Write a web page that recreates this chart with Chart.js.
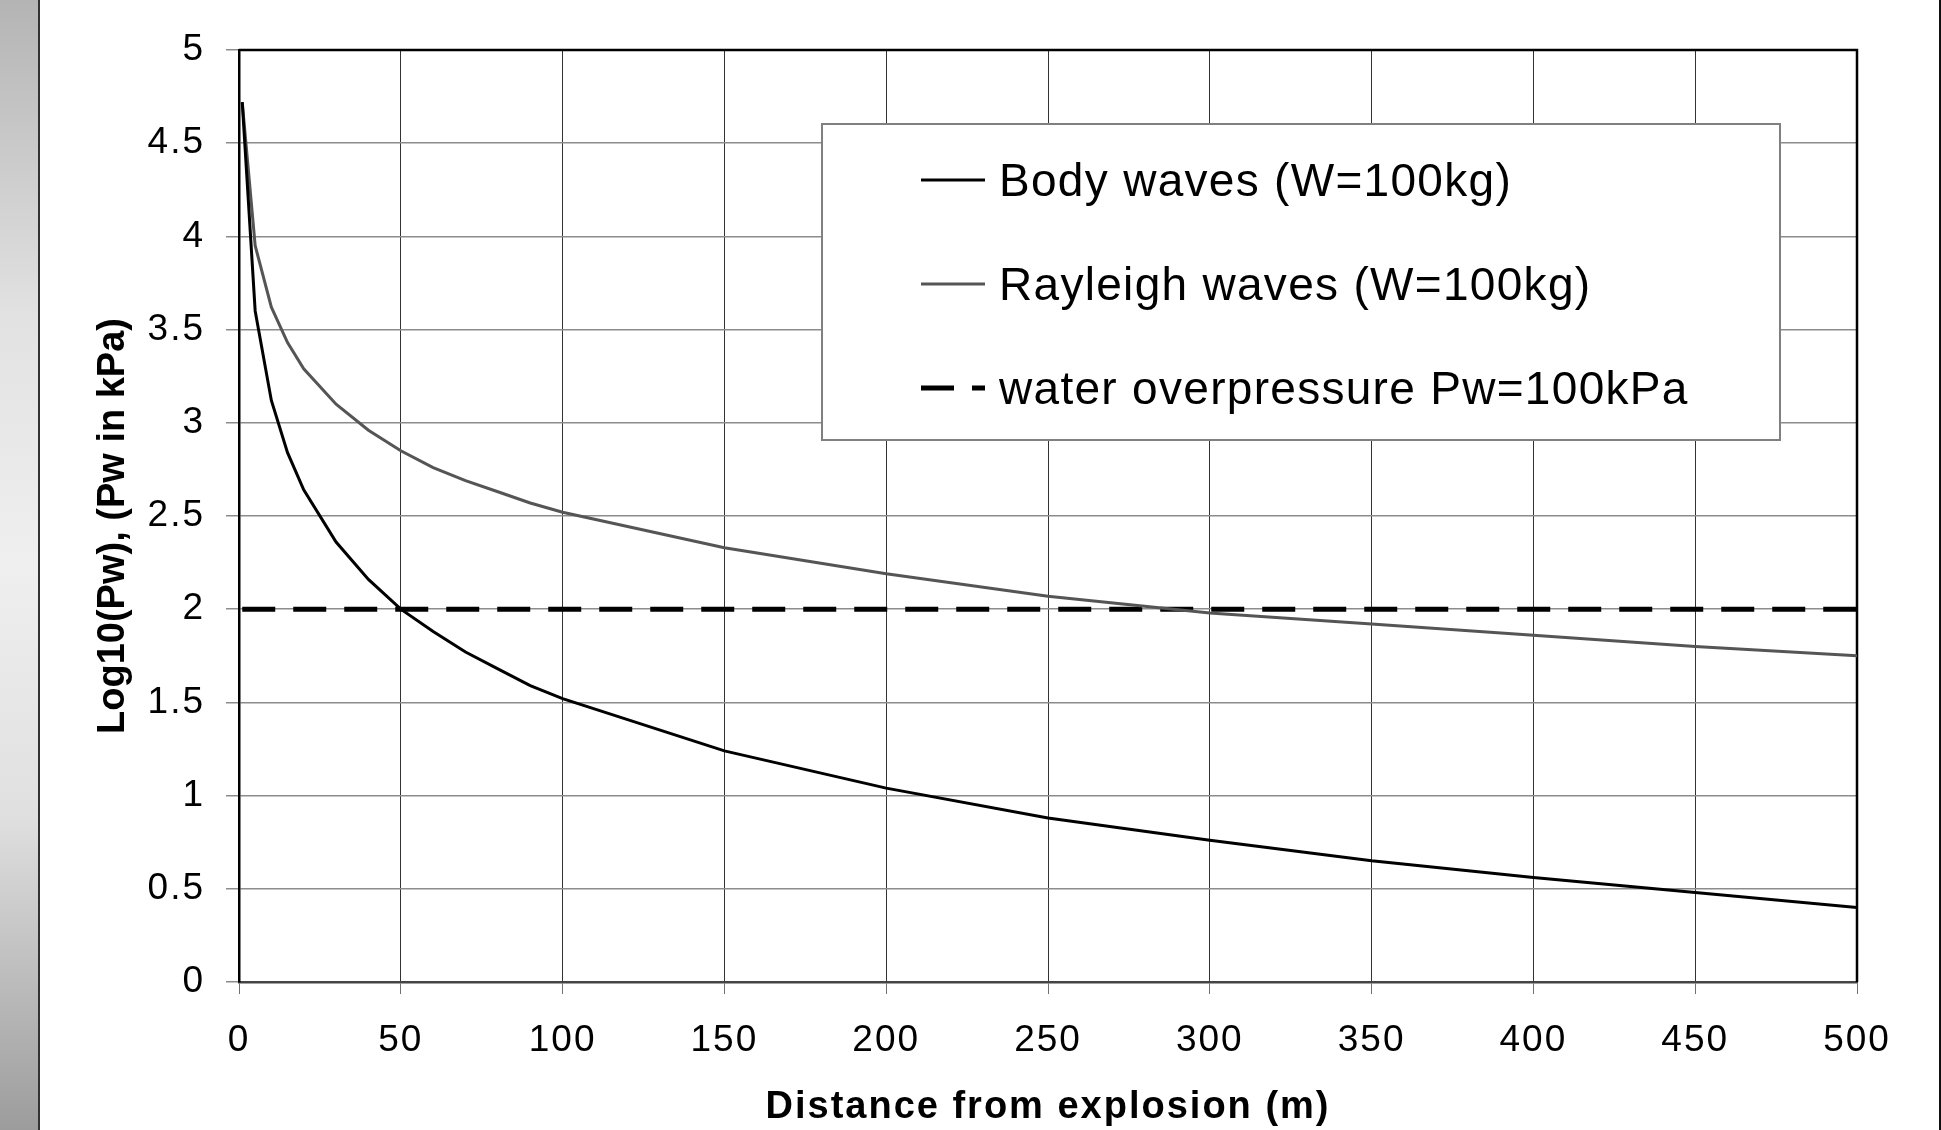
<!DOCTYPE html>
<html><head><meta charset="utf-8">
<script src="https://cdn.jsdelivr.net/npm/chart.js@4.4.1/dist/chart.umd.min.js"></script>
<style>
html,body{margin:0;padding:0;background:#fff;width:1941px;height:1130px;overflow:hidden;}
#strip{position:absolute;left:0;top:0;width:38px;height:1130px;background:linear-gradient(to bottom,#b4b4b4 0%,#e2e2e2 28%,#efefef 50%,#e0e0e0 72%,#9c9c9c 100%);border-right:2.5px solid #333;}
#rline{position:absolute;left:1939px;top:0;width:2px;height:1130px;background:#111;}
#wrap{position:absolute;left:0;top:0;width:1941px;height:1130px;}
</style></head>
<body>
<div id="strip"></div><div id="rline"></div>
<div id="wrap"><canvas id="c"></canvas></div>
<script>
// ---- data ----
const DISTANCE = [1, 5, 10, 15, 20, 30, 40, 50, 60, 70, 80, 90, 100, 150, 200, 250, 300, 350, 400, 450, 500];
const BODY_WAVES = [4.72, 3.60, 3.12, 2.84, 2.64, 2.36, 2.16, 2.00, 1.88, 1.77, 1.68, 1.59, 1.52, 1.24, 1.04, 0.88, 0.76, 0.65, 0.56, 0.48, 0.40];
const RAYLEIGH_WAVES = [4.72, 3.95, 3.62, 3.43, 3.29, 3.10, 2.96, 2.85, 2.76, 2.69, 2.63, 2.57, 2.52, 2.33, 2.19, 2.07, 1.98, 1.92, 1.86, 1.80, 1.75];
const WATER_X = [1, 500];
const WATER_Y = [2, 2];
const SERIES_LABELS = ['Body waves (W=100kg)', 'Rayleigh waves (W=100kg)', 'water overpressure Pw=100kPa'];
const X_TICKS = [0, 50, 100, 150, 200, 250, 300, 350, 400, 450, 500];
const X_TICK_LABELS = ['0', '50', '100', '150', '200', '250', '300', '350', '400', '450', '500'];
const Y_TICKS = [0, 0.5, 1, 1.5, 2, 2.5, 3, 3.5, 4, 4.5, 5];
const Y_TICK_LABELS = ['0', '0.5', '1', '1.5', '2', '2.5', '3', '3.5', '4', '4.5', '5'];
const X_TITLE = 'Distance from explosion (m)';
const Y_TITLE = 'Log10(Pw), (Pw in kPa)';

const FONT = "'Liberation Sans', Arial, sans-serif";
const toPts = (xs, ys) => xs.map((x, i) => ({x: x, y: ys[i]}));

const stylePlugin = {
  id: 'styleText',
  beforeDraw(chart) {
    chart.ctx.letterSpacing = '2px';
    const ys = chart.scales.y;
    if (ys && !ys._patchedTitle) {
      const orig = ys.drawTitle;
      ys.drawTitle = function () {
        const c = this.ctx;
        c.save();
        c.letterSpacing = '0px';
        c.translate(0, 10);
        orig.call(this);
        c.restore();
      };
      ys._patchedTitle = true;
    }
  },
  beforeDatasetsDraw(chart) {
    const {ctx, chartArea: a} = chart;
    ctx.save();
    ctx.strokeStyle = '#000';
    ctx.lineWidth = 2.5;
    ctx.beginPath();
    ctx.moveTo(a.left, a.top);
    ctx.lineTo(a.right, a.top);
    ctx.lineTo(a.right, a.bottom);
    ctx.stroke();
    ctx.restore();
  },
  afterDraw(chart) {
    const ctx = chart.ctx;
    ctx.letterSpacing = '0px';
    ctx.save();
    const bx = 822, by = 124, bw = 958, bh = 316;
    ctx.fillStyle = '#fff';
    ctx.fillRect(bx, by, bw, bh);
    ctx.strokeStyle = '#808080';
    ctx.lineWidth = 2;
    ctx.strokeRect(bx, by, bw, bh);
    const rows = [180, 284, 388];
    chart.data.datasets.forEach((ds, i) => {
      const y = rows[i];
      ctx.save();
      ctx.strokeStyle = ds.borderColor;
      ctx.lineWidth = ds.borderWidth;
      ctx.setLineDash(ds.borderDash || []);
      ctx.beginPath();
      ctx.moveTo(921, y);
      ctx.lineTo(985, y);
      ctx.stroke();
      ctx.restore();
      ctx.fillStyle = '#000';
      ctx.font = '46px ' + FONT;
      ctx.letterSpacing = '1.3px';
      ctx.textBaseline = 'alphabetic';
      ctx.textAlign = 'left';
      ctx.fillText(ds.label, 999, y + 16);
    });
    ctx.restore();
    ctx.letterSpacing = '0px';
  }
};

new Chart(document.getElementById('c'), {
  type: 'line',
  data: {
    datasets: [
      {label: SERIES_LABELS[0], data: toPts(DISTANCE, BODY_WAVES), borderColor: '#000000', borderWidth: 3, pointRadius: 0, tension: 0, fill: false},
      {label: SERIES_LABELS[1], data: toPts(DISTANCE, RAYLEIGH_WAVES), borderColor: '#555555', borderWidth: 3, pointRadius: 0, tension: 0, fill: false},
      {label: SERIES_LABELS[2], data: toPts(WATER_X, WATER_Y), borderColor: '#000000', borderWidth: 5, borderDash: [33, 18], pointRadius: 0, tension: 0, fill: false}
    ]
  },
  options: {
    responsive: true,
    maintainAspectRatio: false,
    animation: false,
    devicePixelRatio: 1,
    layout: {padding: {top: 50, right: 84, bottom: 0, left: 0}},
    plugins: {legend: {display: false}, tooltip: {enabled: false}},
    scales: {
      x: {
        type: 'linear', min: 0, max: 500,
        afterBuildTicks: s => { s.ticks = X_TICKS.map(v => ({value: v})); },
        afterFit: s => { s.height = 148; },
        ticks: {
          callback: v => X_TICK_LABELS[X_TICKS.indexOf(v)],
          font: {family: FONT, size: 37}, color: '#000', padding: 25, maxRotation: 0, autoSkip: false
        },
        grid: {color: '#333333', lineWidth: 1, tickLength: 12, tickColor: '#707070', drawTicks: true},
        border: {display: true, color: '#444444', width: 2.5},
        title: {display: true, text: X_TITLE, font: {family: FONT, size: 38, weight: 'bold'}, color: '#000', padding: {top: 0, bottom: 0}}
      },
      y: {
        type: 'linear', min: 0, max: 5,
        afterBuildTicks: s => { s.ticks = Y_TICKS.map(v => ({value: v})); },
        afterFit: s => { s.width = 239; },
        ticks: {
          callback: v => Y_TICK_LABELS[Y_TICKS.indexOf(v)],
          font: {family: FONT, size: 37}, color: '#000', padding: 21, autoSkip: false
        },
        grid: {color: '#8c8c8c', lineWidth: 1.5, tickLength: 13, tickColor: '#8c8c8c', drawTicks: true},
        border: {display: true, color: '#000000', width: 2.5},
        title: {display: true, text: Y_TITLE, font: {family: FONT, size: 38, weight: 'bold'}, color: '#000', padding: {top: 91, bottom: 0}}
      }
    }
  },
  plugins: [stylePlugin]
});
</script>
</body></html>
